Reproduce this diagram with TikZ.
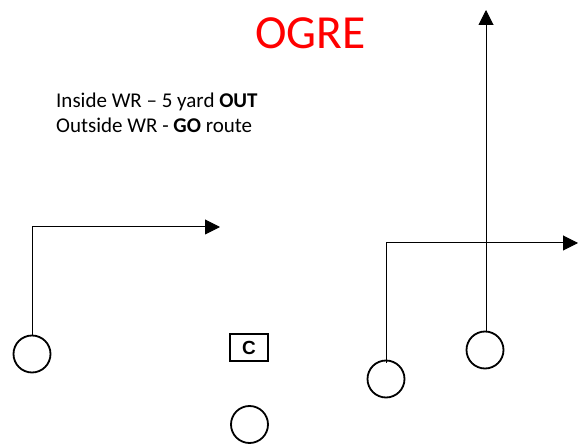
\documentclass[tikz,border=0pt]{standalone}
\usepackage{fontspec}
\setmainfont{Carlito}
\newfontfamily\boxfont{Liberation Sans}
\usetikzlibrary{arrows.meta}

\begin{document}
\begin{tikzpicture}[x=1pt, y=-1pt, >={Triangle[length=15pt, width=15pt]},
    player/.style={draw, line width=1.8pt, circle, minimum size=37pt, inner sep=0pt},
    centerbox/.style={draw, line width=1.8pt, minimum width=38pt, minimum height=27pt, inner sep=0pt, font=\boxfont\bfseries\fontsize{19}{19}\selectfont},
    route/.style={->, line width=1pt},
    note/.style={anchor=base west, inner sep=0pt, font=\fontsize{21}{24}\selectfont}]
  \useasboundingbox (0,0) rectangle (584,446);
  \node[red, anchor=base, inner sep=0pt, font=\fontsize{47.5}{47.5}\selectfont] (title) at (310.5,49) {OGRE};
  \node[note] (inside) at (56,108) {Inside WR -- 5 yard \textbf{OUT}};
  \node[note] (outside) at (56,132.5) {Outside WR - \textbf{GO} route};
  % players
  \node[player] (wrl) at (32,354) {};
  \node[centerbox] (ctr) at (249,347.5) {C};
  \node[player] (qb) at (249.5,424.5) {};
  \node[player] (wri) at (386,379) {};
  \node[player] (wro) at (485,350) {};
  % routes
  \coordinate (lend) at (220,227);
  \coordinate (rend) at (578,243);
  \coordinate (oend) at (486,10);
  \draw[route] (wrl.north) -- (wrl.north |- lend) -- (lend);
  \draw[route] ([yshift=-3pt]wri.north) -- (wri.north |- rend) -- (rend);
  \draw[route] (wro.north -| oend) -- (oend);
\end{tikzpicture}
\end{document}
